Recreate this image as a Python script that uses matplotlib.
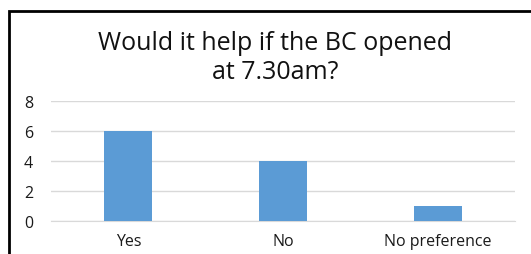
import matplotlib.pyplot as plt
from matplotlib.patches import Rectangle

categories = ["Yes", "No", "No preference"]
counts = [6, 4, 1]
y_ticks = [0, 2, 4, 6, 8]
title = "Would it help if the BC opened\nat 7.30am?"

plt.rcParams["font.family"] = ["Open Sans", "DejaVu Sans"]

fig = plt.figure(figsize=(5.31, 2.55), dpi=100)
ax = fig.add_axes([51 / 531, 1 - 221.7 / 255, 464 / 531, 120 / 255])

x = range(len(categories))
ax.bar(x, counts, width=0.31, color="#5b9bd5", zorder=3)
ax.set_xlim(-0.5, len(categories) - 0.5)
ax.set_ylim(0, 8)
ax.set_yticks(y_ticks)
ax.set_xticks(list(x), categories)
ax.grid(axis="y", color="#d9d9d9", linewidth=1, zorder=0)
for side in ["top", "right", "left"]:
    ax.spines[side].set_visible(False)
ax.spines["bottom"].set_color("#d9d9d9")
ax.tick_params(length=0, labelsize=11.5, colors="#1a1a1a", pad=9)
ax.tick_params(axis="y", pad=13)

fig.text(0.518, 1 - 31 / 255, title, ha="center", va="top", fontsize=18,
         color="#111111", linespacing=1.2)

# outer chart frame, clipped by the image edge on the right and bottom
fig.patches.append(Rectangle((9 / 531, -0.1), 1.2, 1 - 12 / 255 + 0.1,
                             transform=fig.transFigure, fill=False,
                             edgecolor="black", linewidth=2))

fig.savefig("out.png", dpi=100)
